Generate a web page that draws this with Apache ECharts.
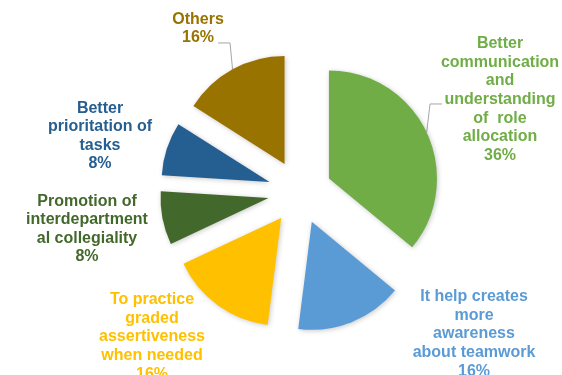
<!DOCTYPE html>
<html>
<head>
<meta charset="utf-8">
<script src="https://cdn.jsdelivr.net/npm/echarts@6/dist/echarts.min.js"></script>
<style>html,body{margin:0;padding:0;background:#fff;}#c{width:562px;height:375px;}</style>
</head>
<body>
<div id="c"></div>
<script>
var categories = [
  "Better\ncommunication\nand\nunderstanding\nof  role\nallocation",
  "It help creates\nmore\nawareness\nabout teamwork",
  "To practice\ngraded\nassertiveness\nwhen needed",
  "Promotion of\ninterdepartment\nal collegiality",
  "Better\nprioritation of\ntasks",
  "Others"
];
var values = [36, 16, 16, 8, 8, 16];
var colors = ["#70AD47", "#5B9BD5", "#FFC000", "#43682B", "#255E91", "#997300"];
var labelColors = ["#70AD47", "#5B9BD5", "#FFC000", "#43682B", "#255E91", "#997300"];
var showLines = [true, false, false, false, false, true];
// label block centres (layout)
var labelPos = [[500, 99.5], [474, 334], [152, 337], [87, 229], [100, 136], [198, 28.5]];
// leader-line anchor boxes (layout, before the slice's explode shift)
var guidePos = [[457.5, 117.6], null, null, null, null, [189, 71]];

var chart = echarts.init(document.getElementById('c'), null, {renderer: 'canvas'});

var sliceData = categories.map(function (name, i) {
  return {
    name: name, value: values[i], selected: true,
    itemStyle: {color: colors[i]},
    label: {show: showLines[i]},
    labelLine: {show: showLines[i]}
  };
});
var labelData = categories.map(function (name, i) {
  return {
    name: name,
    value: values[i],
    itemStyle: {color: 'rgba(0,0,0,0)'},
    label: {color: labelColors[i]}
  };
});

chart.setOption({
  animation: false,
  series: [{
    type: 'pie',
    z: 3,
    center: [300, 192],
    radius: [0, 108],
    startAngle: 90,
    clockwise: true,
    selectedMode: 'multiple',
    selectedOffset: 32,
    avoidLabelOverlap: false,
    itemStyle: {
      borderWidth: 0,
      shadowBlur: 5,
      shadowColor: 'rgba(0,0,0,0.22)',
      shadowOffsetX: 1,
      shadowOffsetY: 1
    },
    label: {
      position: 'outside',
      formatter: '                    ',
      color: 'rgba(0,0,0,0)',
      fontFamily: 'Liberation Sans, Arial, sans-serif',
      fontWeight: 'bold',
      fontSize: 16,
      lineHeight: 18
    },
    labelLine: {
      length2: 12,
      minTurnAngle: 60,
      lineStyle: {color: '#A6A6A6', width: 1}
    },
    labelLayout: function (params) {
      var p = guidePos[params.dataIndex];
      if (!p) return {};
      return {x: p[0], y: p[1], align: 'center', verticalAlign: 'middle'};
    },
    emphasis: {disabled: true},
    data: sliceData
  }, {
    type: 'pie',
    z: 2,
    silent: true,
    center: [300, 192],
    radius: [0, 108],
    startAngle: 90,
    clockwise: true,
    selectedMode: false,
    avoidLabelOverlap: false,
    itemStyle: {borderWidth: 0},
    label: {
      show: true,
      position: 'outside',
      formatter: '{b}\n{d}%',
      fontFamily: 'Liberation Sans, Arial, sans-serif',
      fontWeight: 'bold',
      fontSize: 16,
      lineHeight: 18.6,
      align: 'center'
    },
    labelLine: {show: false},
    labelLayout: function (params) {
      var p = labelPos[params.dataIndex];
      return {x: p[0], y: p[1], align: 'center', verticalAlign: 'middle'};
    },
    emphasis: {disabled: true},
    data: labelData
  }]
});
</script>
</body>
</html>
